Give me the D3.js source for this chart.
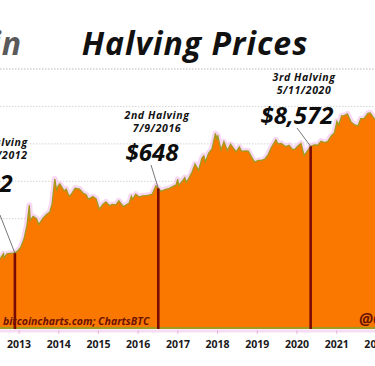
<!DOCTYPE html>
<html>
<head>
<meta charset="utf-8">
<script src="https://cdn.jsdelivr.net/npm/d3@7"></script>
<style>
  html, body { margin: 0; padding: 0; background: #fff; overflow: hidden; }
  text { font-family: "Open Sans", "DejaVu Sans", sans-serif; font-style: italic; font-weight: bold; }
</style>
</head>
<body>
<svg id="chart" width="375" height="366"></svg>
<script>
// price history (USD)
const priceDates = [
  '2012-06-15','2012-07-15','2012-08-15','2012-08-20','2012-09-15','2012-10-15','2012-11-28','2012-12-20',
  '2013-01-20','2013-02-20','2013-03-20','2013-04-10','2013-04-17','2013-05-15','2013-06-15','2013-07-05',
  '2013-08-15','2013-09-15','2013-10-15','2013-11-05','2013-11-30','2013-12-18','2013-12-30',
  '2014-01-15','2014-02-25','2014-03-15','2014-04-10','2014-05-01','2014-06-05','2014-07-15','2014-08-18',
  '2014-09-15','2014-10-05','2014-11-15','2014-12-15',
  '2015-01-14','2015-02-15','2015-03-15','2015-04-15','2015-05-15','2015-06-15','2015-07-12','2015-08-24',
  '2015-09-15','2015-10-15','2015-11-04','2015-11-15','2015-12-15',
  '2016-01-15','2016-02-15','2016-03-15','2016-04-15','2016-05-15','2016-06-17','2016-07-09','2016-08-02',
  '2016-09-15','2016-10-15','2016-11-15','2016-12-20',
  '2017-01-04','2017-01-12','2017-02-15','2017-03-10','2017-03-24','2017-04-15','2017-05-15','2017-06-12',
  '2017-07-15','2017-08-15','2017-09-01','2017-09-15','2017-10-15','2017-11-15','2017-12-17','2017-12-30',
  '2018-01-06','2018-02-06','2018-03-05','2018-04-06','2018-05-05','2018-06-25','2018-07-25','2018-08-15',
  '2018-09-15','2018-10-15','2018-11-25','2018-12-15',
  '2019-01-15','2019-02-15','2019-03-15','2019-04-15','2019-05-15','2019-06-26','2019-07-15','2019-08-15',
  '2019-09-25','2019-10-26','2019-11-25','2019-12-15',
  '2020-01-15','2020-02-12','2020-03-12','2020-04-15','2020-05-11','2020-06-15','2020-07-15','2020-08-15',
  '2020-09-15','2020-10-15','2020-11-15','2020-12-15',
  '2021-01-08','2021-01-25','2021-02-20','2021-03-15','2021-04-14','2021-05-19','2021-06-22','2021-07-20',
  '2021-08-15','2021-09-15','2021-10-20','2021-11-10','2021-12-15','2022-01-20'
];
const priceValues = [
  6.5, 8.5, 11.5, 9, 11.5, 11.8, 12.2, 13.4,
  17, 29, 70, 230, 90, 115, 100, 70,
  105, 130, 150, 250, 1150, 550, 750,
  850, 550, 620, 400, 450, 650, 620, 480,
  440, 330, 390, 340,
  180, 240, 280, 225, 240, 235, 300, 210,
  230, 260, 400, 330, 450,
  380, 410, 415, 425, 455, 750, 648, 540,
  610, 640, 710, 800,
  1130, 780, 1000, 1250, 930, 1180, 1750, 2900,
  1950, 4200, 4800, 3300, 5600, 7300, 19000, 12500,
  17000, 6900, 11400, 6600, 9700, 6100, 8200, 6300,
  6500, 6400, 3900, 3250,
  3600, 3600, 3900, 5100, 8000, 12800, 10000, 10200,
  8400, 9200, 7100, 7100,
  8800, 10300, 4900, 6700, 8572, 9400, 9200, 11800,
  10800, 11500, 16000, 19500,
  40000, 32000, 56000, 57000, 63000, 38000, 32000, 30000,
  47000, 48000, 65000, 67000, 48000, 40000
];

const halvingDates = ['2012-11-28', '2016-07-09', '2020-05-11'];
const halvingPrices = [12, 648, 8572];
const halvingNames = ['1st Halving', '2nd Halving', '3rd Halving'];
const halvingLabels = ['11/28/2012', '7/9/2016', '5/11/2020'];
const halvingPriceText = ['$12', '$648', '$8,572'];

const gridValues = [1e2, 1e3, 1e4, 1e5, 1e6];

const parse = d3.timeParse('%Y-%m-%d');
const data = priceDates.map((d, i) => ({date: parse(d), value: priceValues[i]}));
const halvings = halvingDates.map((d, i) => ({
  date: parse(d), value: halvingPrices[i], name: halvingNames[i], label: halvingLabels[i], price: halvingPriceText[i]
}));

const W = 375, H = 366;
const plotBottom = 328;
const svg = d3.select('#chart');

// 2013 and 2021 fall at these pixels; the visible window is cut from a wider chart
const xBase = d3.scaleTime()
  .domain([new Date(2013, 0, 1), new Date(2021, 0, 1)])
  .range([18.6, 336.2]);
const x = d3.scaleTime()
  .domain([xBase.invert(0), xBase.invert(W + 6)])
  .range([0, W + 6]);
const y = d3.scaleLog()
  .domain([0.1, 1e6])
  .range([331, 69]);

// gridlines
svg.append('g')
  .selectAll('line')
  .data(gridValues)
  .enter()
  .append('line')
  .attr('x1', 0).attr('x2', W)
  .attr('y1', d => y(d)).attr('y2', d => y(d))
  .attr('stroke', (d, i) => i === gridValues.length - 1 ? '#b8b8b8' : '#d4d4d4')
  .attr('stroke-width', 1)
  .attr('stroke-dasharray', '1.5,1.5');

// title
svg.append('text')
  .attr('x', 22).attr('y', 55)
  .attr('text-anchor', 'end')
  .attr('font-size', 32)
  .attr('letter-spacing', 1)
  .attr('fill', '#5a5a5a')
  .text('Bitcoin');
svg.append('text')
  .attr('x', 195).attr('y', 55)
  .attr('text-anchor', 'middle')
  .attr('font-size', 32)
  .attr('letter-spacing', 1)
  .attr('fill', '#111')
  .text('Halving Prices');

// price area
const area = d3.area()
  .x(d => x(d.date))
  .y0(plotBottom)
  .y1(d => y(d.value));
const line = d3.line()
  .x(d => x(d.date))
  .y(d => y(d.value));

svg.append('path')
  .datum(data)
  .attr('d', line)
  .attr('fill', 'none')
  .attr('stroke', '#f4c6ee')
  .attr('stroke-width', 6)
  .attr('stroke-linejoin', 'round')
  .attr('opacity', 0.7);
svg.append('path')
  .datum(data)
  .attr('d', area)
  .attr('fill', '#fb7800');
svg.append('path')
  .datum(data)
  .attr('d', line)
  .attr('fill', 'none')
  .attr('stroke', '#a09a1e')
  .attr('stroke-width', 1.3);

// bottom rule
svg.append('line')
  .attr('x1', 0).attr('x2', W)
  .attr('y1', plotBottom).attr('y2', plotBottom)
  .attr('stroke', '#a09a1e').attr('stroke-width', 2);
svg.append('line')
  .attr('x1', 0).attr('x2', W)
  .attr('y1', plotBottom + 3).attr('y2', plotBottom + 3)
  .attr('stroke', '#f7dcf3').attr('stroke-width', 3);

// x axis
const xAxis = svg.append('g')
  .attr('transform', `translate(0,${plotBottom + 2})`)
  .call(d3.axisBottom(x)
    .ticks(d3.timeYear.every(1))
    .tickFormat(d3.timeFormat('%Y'))
    .tickSize(4)
    .tickPadding(7));
xAxis.select('.domain').remove();
xAxis.selectAll('line').attr('stroke', '#e9b8e0');
xAxis.selectAll('text')
  .attr('font-size', 10.5)
  .attr('fill', '#1a1a1a')
  .style('font-family', '"Open Sans", "DejaVu Sans", sans-serif')
  .style('font-style', 'normal')
  .style('font-weight', 'bold');

// halving markers
const labelPos = [
  {cx: -3, top: 142, lead: [0, 215]},
  {cx: 157, top: 115, lead: [151, 165]},
  {cx: 304, top: 77, lead: [297, 128]}
];
const hg = svg.append('g');
halvings.forEach((h, i) => {
  const px = x(h.date), py = y(h.value), p = labelPos[i];
  hg.append('line')
    .attr('x1', p.lead[0]).attr('y1', p.lead[1])
    .attr('x2', px).attr('y2', py)
    .attr('stroke', '#555').attr('stroke-width', 0.8);
  hg.append('line')
    .attr('x1', px).attr('x2', px)
    .attr('y1', py).attr('y2', plotBottom + 1)
    .attr('stroke', '#7a0c06').attr('stroke-width', 2.6);
  hg.append('text')
    .attr('x', p.cx).attr('y', p.top + 3.5)
    .attr('text-anchor', 'middle')
    .attr('font-size', 10.5)
    .attr('letter-spacing', 0.6)
    .attr('fill', '#111')
    .text(h.name);
  hg.append('text')
    .attr('x', p.cx).attr('y', p.top + 17)
    .attr('text-anchor', 'middle')
    .attr('font-size', 10.5)
    .attr('letter-spacing', 0.6)
    .attr('fill', '#111')
    .text(h.label);
});
// big price labels
const priceLabelPos = [[-7, 192], [152, 161], [297, 124]];
hg.selectAll('.price')
  .data(halvings)
  .enter()
  .append('text')
  .attr('class', 'price')
  .attr('x', (d, i) => priceLabelPos[i][0])
  .attr('y', (d, i) => priceLabelPos[i][1])
  .attr('text-anchor', 'middle')
  .attr('font-size', 24)
  .attr('fill', '#0d0d0d')
  .text(d => d.price);

// credits
svg.append('text')
  .attr('x', 3).attr('y', 325)
  .attr('font-size', 10.5)
  .attr('fill', '#6b1300')
  .text('bitcoincharts.com; ChartsBTC');
svg.append('text')
  .attr('x', 359).attr('y', 325)
  .attr('font-size', 16)
  .attr('fill', '#6b1300')
  .text('@ChartsBTC');
</script>
</body>
</html>
